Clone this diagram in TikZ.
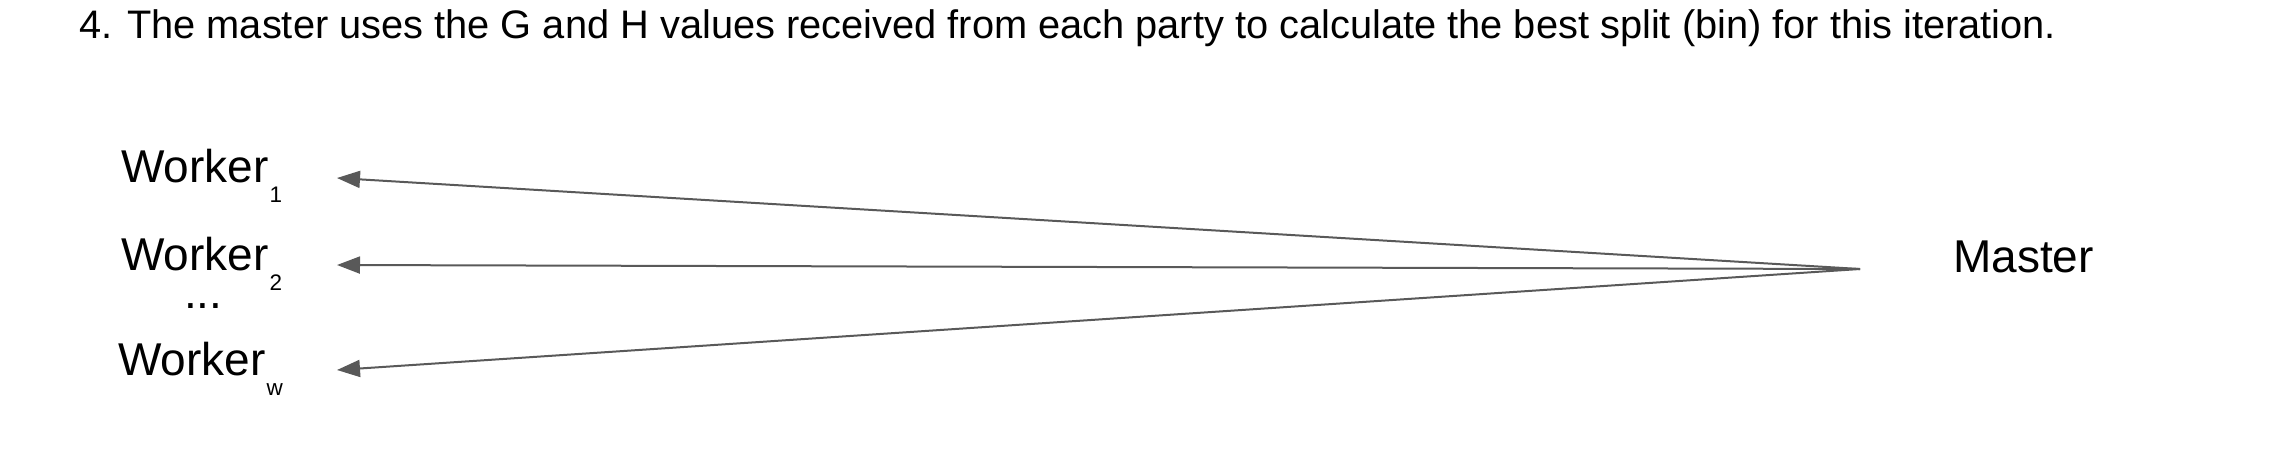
\documentclass[tikz,border=0pt]{standalone}
\usepackage{fontspec}
\setmainfont{Liberation Sans}
\usetikzlibrary{arrows.meta}
\definecolor{arr}{HTML}{595959}
\newcommand{\wsub}[1]{{\fontsize{22.5}{22.5}\selectfont\kern1pt\raisebox{-20pt}{#1}}}
\begin{document}
\begin{tikzpicture}[x=1pt,y=-1pt,
  lbl/.style={anchor=base west,inner sep=0pt,font=\fontsize{46}{46}\selectfont},
  ttl/.style={anchor=base west,inner sep=0pt,font=\fontsize{39.8}{39.8}\selectfont},
  conn/.style={draw=arr,line width=2pt,-{Triangle[length=23pt,width=17pt]}}]
\useasboundingbox (0,0) rectangle (2278,458);
\node[ttl] (title) at (79,38) {4. The master uses the G and H values received from each party to calculate the best split (bin) for this iteration.};
\node[lbl] (w1) at (121,182) {Worker\wsub{1}};
\node[lbl] (w2) at (121,270) {Worker\wsub{2}};
\node[lbl] (ww) at (118,375) {Worker\wsub{w}};
\node[anchor=base west,inner sep=0pt,font=\fontsize{46}{46}\selectfont] (dots) at (184,308) {...};
\node[lbl] (master) at (1953,272) {Master};
\coordinate (m) at (1860,269);
\coordinate (a1) at (337,178);
\coordinate (a2) at (337,265);
\coordinate (aw) at (337,370);
\draw[conn] (m) -- (a1);
\draw[conn] (m) -- (a2);
\draw[conn] (m) -- (aw);
\end{tikzpicture}
\end{document}
